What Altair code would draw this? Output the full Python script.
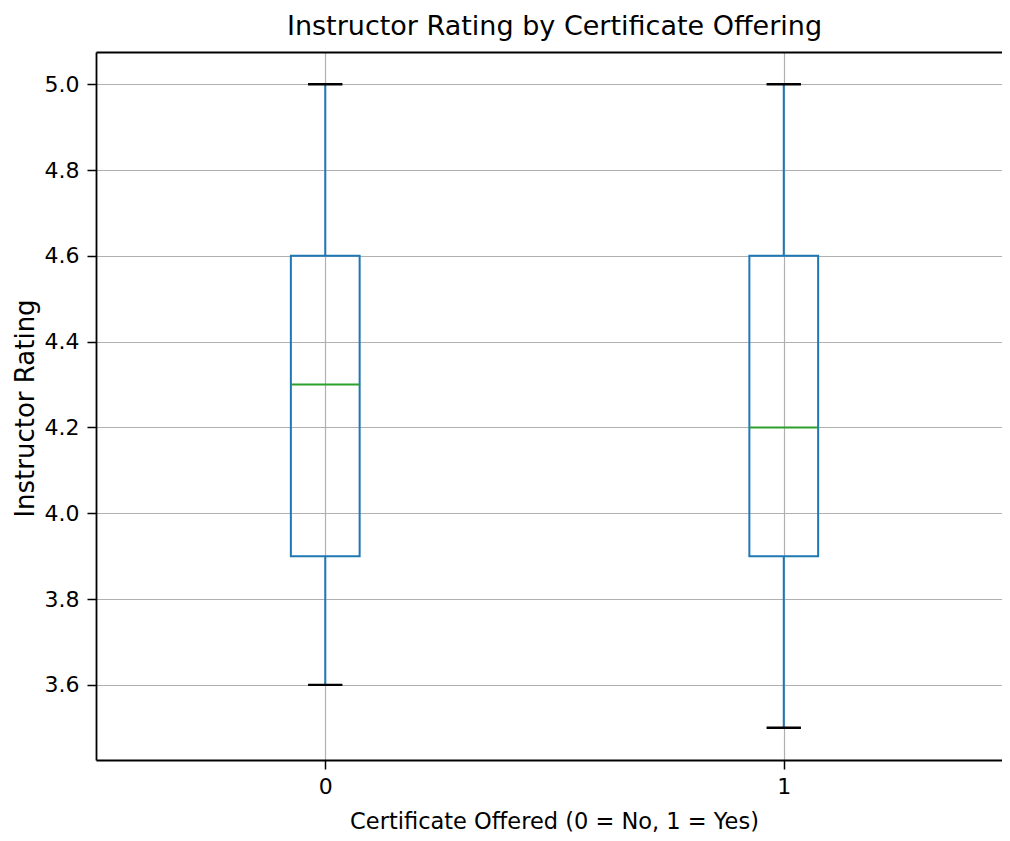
import altair as alt
import pandas as pd

# ---- data ----
groups = [0, 1]
whisker_low = [3.6, 3.5]
q1 = [3.9, 3.9]
median = [4.3, 4.2]
q3 = [4.6, 4.6]
whisker_high = [5.0, 5.0]
y_ticks = [3.6, 3.8, 4.0, 4.2, 4.4, 4.6, 4.8, 5.0]

df = pd.DataFrame({
    "group": groups,
    "low": whisker_low,
    "q1": q1,
    "median": median,
    "q3": q3,
    "high": whisker_high,
})

FONT = "DejaVu Sans"
BOX_HALF = 0.075
CAP_HALF = 0.0375
BLUE = "#1f77b4"
GREEN = "#2ca02c"
FRAME_W = 1.8

xscale = alt.Scale(domain=[-0.5, 1.5], nice=False, zero=False)
yscale = alt.Scale(domain=[3.425, 5.075], nice=False, zero=False)

x_axis = alt.Axis(
    values=groups, format="d", title="Certificate Offered (0 = No, 1 = Yes)",
    tickSize=9, labelPadding=7, titleFontSize=22.5,
    titleX=458, titleY=68, titleBaseline="alphabetic", titleAlign="center",
    domain=True, domainColor="black", domainWidth=FRAME_W,
)
y_axis = alt.Axis(
    values=y_ticks, format=".1f", title="Instructor Rating",
    tickSize=9, labelPadding=8, titleFontSize=26,
    titleX=-63, titleY=356, titleAngle=270, titleBaseline="alphabetic",
    titleAlign="center",
    domain=True, domainColor="black", domainWidth=FRAME_W,
)
top_axis = alt.Axis(
    orient="top", values=groups, labels=False, ticks=False, grid=False,
    title=None, domain=True, domainColor="black", domainWidth=FRAME_W,
)

base = alt.Chart(df).transform_calculate(
    xl=f"datum.group - {BOX_HALF}",
    xr=f"datum.group + {BOX_HALF}",
    cl=f"datum.group - {CAP_HALF}",
    cr=f"datum.group + {CAP_HALF}",
)

box = base.mark_rect(fillOpacity=0, stroke=BLUE, strokeWidth=2).encode(
    x=alt.X("xl:Q", scale=xscale, axis=x_axis),
    x2="xr:Q",
    y=alt.Y("q1:Q", scale=yscale, axis=y_axis),
    y2="q3:Q",
)
whisk_lo = base.mark_rule(color=BLUE, strokeWidth=2).encode(
    x=alt.X("group:Q", scale=xscale, axis=x_axis),
    y=alt.Y("low:Q", scale=yscale, axis=y_axis),
    y2="q1:Q",
)
whisk_hi = base.mark_rule(color=BLUE, strokeWidth=2).encode(
    x=alt.X("group:Q", scale=xscale, axis=x_axis),
    y=alt.Y("q3:Q", scale=yscale, axis=y_axis),
    y2="high:Q",
)
cap_lo = base.mark_rule(color="black", strokeWidth=2.4).encode(
    x=alt.X("cl:Q", scale=xscale, axis=x_axis),
    x2="cr:Q",
    y=alt.Y("low:Q", scale=yscale, axis=y_axis),
)
cap_hi = base.mark_rule(color="black", strokeWidth=2.4).encode(
    x=alt.X("cl:Q", scale=xscale, axis=x_axis),
    x2="cr:Q",
    y=alt.Y("high:Q", scale=yscale, axis=y_axis),
)
med = base.mark_rule(color=GREEN, strokeWidth=2).encode(
    x=alt.X("xl:Q", scale=xscale, axis=x_axis),
    x2="xr:Q",
    y=alt.Y("median:Q", scale=yscale, axis=y_axis),
)

# invisible layer that only carries the top frame line (an x axis on top)
top_frame = base.mark_rule(opacity=0).encode(
    x=alt.X("group:Q", scale=xscale, axis=top_axis),
    y=alt.Y("q1:Q", scale=yscale, axis=y_axis),
    y2="q3:Q",
)

boxes = alt.layer(box, whisk_lo, whisk_hi, cap_lo, cap_hi, med)

chart = alt.layer(boxes, top_frame).resolve_axis(x="independent").properties(
    width=917,
    height=708,
    padding={"left": 88, "top": 44, "right": -11, "bottom": 73},
    autosize=alt.AutoSizeParams(type="none"),
    background="white",
    title=alt.Title(
        "Instructor Rating by Certificate Offering",
        font=FONT, fontSize=27, fontWeight="normal", color="black",
        anchor="middle", baseline="alphabetic", offset=-10,
    ),
).configure_view(
    strokeWidth=0,
).configure_axis(
    grid=True, gridColor="#b0b0b0", gridWidth=1.2,
    tickColor="black", tickWidth=1.5,
    labelFont=FONT, labelFontSize=22, labelColor="black",
    titleFont=FONT, titleFontWeight="normal", titleColor="black",
)

chart.save("out.html", embed_options={"renderer": "svg", "actions": False})
